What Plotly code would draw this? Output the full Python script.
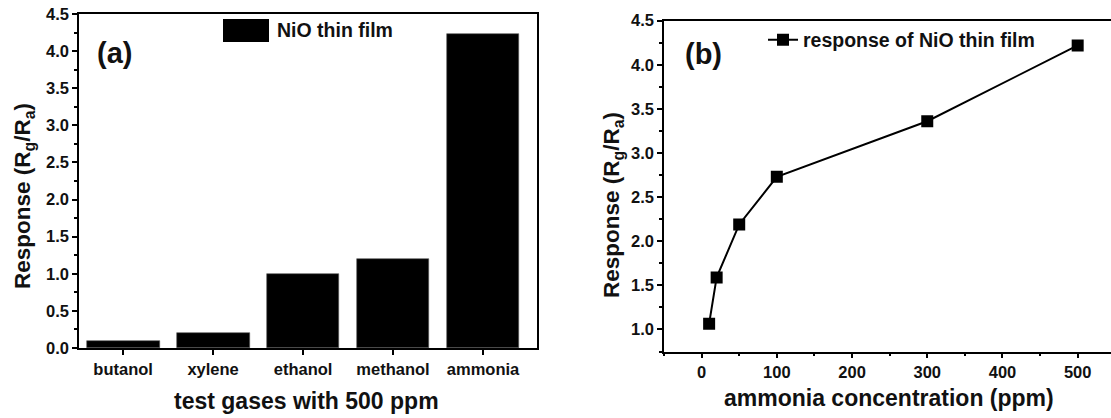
import plotly.graph_objects as go

# ---- data ----
gases = ["butanol", "xylene", "ethanol", "methanol", "ammonia"]
gas_response = [0.1, 0.2, 1.0, 1.2, 4.23]

conc_ppm = [10, 20, 50, 100, 300, 500]
conc_response = [1.065, 1.59, 2.19, 2.73, 3.36, 4.22]

W, H = 1111, 418
FONT = "Liberation Sans, Arial, Helvetica, sans-serif"
INK = "#111111"


def px(x):
    return x / W


def py(y):
    return 1 - y / H


fig = go.Figure()

fig.add_trace(go.Bar(
    x=gases, y=gas_response, width=0.81,
    marker=dict(color="black", line=dict(color="#555555", width=0.6)),
    showlegend=False, xaxis="x", yaxis="y",
))

fig.add_trace(go.Scatter(
    x=conc_ppm, y=conc_response, mode="lines+markers",
    name="response of NiO thin film",
    line=dict(color="black", width=2),
    marker=dict(symbol="square", size=12, color="black"),
    xaxis="x2", yaxis="y2", showlegend=True,
))

tickfont = dict(family=FONT, size=16.5, color=INK, weight="bold")
common = dict(showline=True, linecolor="black", linewidth=1.5,
              ticks="outside", ticklen=5, tickwidth=1.5, tickcolor="black",
              showgrid=False, zeroline=False, tickfont=tickfont, automargin=False)

fig.update_layout(
    width=W, height=H,
    margin=dict(l=0, r=0, t=0, b=0, autoexpand=False),
    paper_bgcolor="white", plot_bgcolor="white",
    font=dict(family=FONT, color=INK),
    xaxis=dict(domain=[px(79), px(537)], anchor="y", type="category",
               range=[-0.49, 4.6], mirror=True, **common),
    yaxis=dict(domain=[py(348), py(14)], anchor="x", range=[0, 4.5],
               tick0=0, dtick=0.5, tickformat=".1f", mirror=True,
               minor=dict(dtick=0.25, ticks="outside", ticklen=3, tickcolor="black"),
               **common),
    xaxis2=dict(domain=[px(664), 1.0], anchor="y2", range=[-50, 544.3],
                tick0=0, dtick=100, mirror=True,
                minor=dict(dtick=50, ticks="outside", ticklen=3, tickcolor="black"),
                **common),
    yaxis2=dict(domain=[py(351.5), py(20.7)], anchor="x2", range=[0.75, 4.5],
                tick0=0, dtick=0.5, tickformat=".1f", mirror=False,
                minor=dict(dtick=0.25, ticks="outside", ticklen=3, tickcolor="black"),
                **common),
    legend=dict(x=px(763), y=py(40), xanchor="left", yanchor="middle",
                bgcolor="rgba(0,0,0,0)", borderwidth=0,
                font=dict(family=FONT, size=19.5, color=INK, weight="bold")),
    bargap=0,
)

# legend swatch for panel (a)
fig.add_shape(type="rect", xref="paper", yref="paper",
              x0=px(223), x1=px(269), y0=py(42), y1=py(19),
              fillcolor="black", line=dict(color="black", width=0))

ann_font = dict(family=FONT, color=INK, weight="bold")
annotations = [
    dict(text="NiO thin film", x=px(275), y=py(30), xanchor="left", yanchor="middle",
         font=dict(size=19.5, **ann_font)),
    dict(text="(a)", x=px(115), y=py(53), xanchor="center", yanchor="middle",
         font=dict(size=29, **ann_font)),
    dict(text="(b)", x=px(703), y=py(54), xanchor="center", yanchor="middle",
         font=dict(size=29, **ann_font)),
    dict(text="Response (R<sub>g</sub>/R<sub>a</sub>)", x=px(24), y=py(196),
         textangle=-90, xanchor="center", yanchor="middle",
         font=dict(size=22.5, **ann_font)),
    dict(text="Response (R<sub>g</sub>/R<sub>a</sub>)", x=px(613), y=py(205),
         textangle=-90, xanchor="center", yanchor="middle",
         font=dict(size=22.5, **ann_font)),
    dict(text="test gases with 500 ppm", x=px(306), y=py(401),
         xanchor="center", yanchor="middle", font=dict(size=23, **ann_font)),
    dict(text="ammonia concentration (ppm)", x=px(889), y=py(398),
         xanchor="center", yanchor="middle", font=dict(size=23, **ann_font)),
]
for a in annotations:
    fig.add_annotation(xref="paper", yref="paper", showarrow=False, **a)

fig.write_html("out.html")
